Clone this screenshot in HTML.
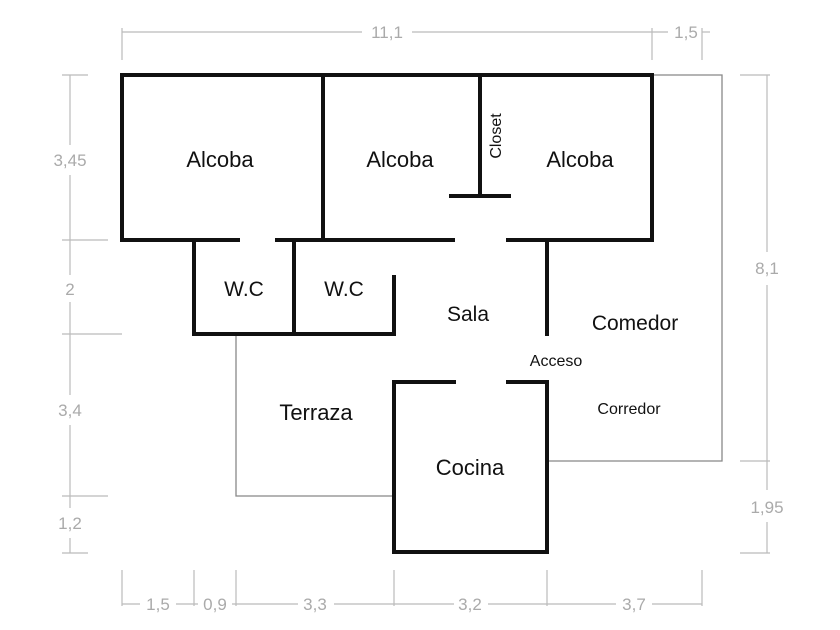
<!DOCTYPE html>
<html><head><meta charset="utf-8"><style>
html,body{margin:0;padding:0;background:#fff}
svg{display:block}
text{font-family:"Liberation Sans",sans-serif}
</style></head><body>
<svg width="840" height="630" viewBox="0 0 840 630" xmlns="http://www.w3.org/2000/svg">
<rect width="840" height="630" fill="#fff"/>
<!-- dimension lines -->
<g stroke="#bbb" stroke-width="1.2" fill="none">
<line x1="122" y1="32" x2="362" y2="32"/><line x1="412" y1="32" x2="668" y2="32"/>
<line x1="702" y1="32" x2="710" y2="32"/>
<line x1="122" y1="28" x2="122" y2="60"/><line x1="652" y1="28" x2="652" y2="60"/><line x1="702" y1="28" x2="702" y2="60"/>
<line x1="70" y1="75" x2="70" y2="145"/><line x1="70" y1="175" x2="70" y2="275"/><line x1="70" y1="302" x2="70" y2="395"/><line x1="70" y1="425" x2="70" y2="508"/><line x1="70" y1="538" x2="70" y2="553"/>
<line x1="62" y1="75" x2="88" y2="75"/><line x1="62" y1="240" x2="108" y2="240"/><line x1="62" y1="334" x2="122" y2="334"/><line x1="62" y1="496" x2="108" y2="496"/><line x1="62" y1="553" x2="88" y2="553"/>
<line x1="767" y1="75" x2="767" y2="252"/><line x1="767" y1="285" x2="767" y2="490"/><line x1="767" y1="522" x2="767" y2="553"/>
<line x1="740" y1="75" x2="770" y2="75"/><line x1="740" y1="461" x2="770" y2="461"/><line x1="740" y1="553" x2="770" y2="553"/>
<line x1="122" y1="604" x2="140" y2="604"/><line x1="176" y1="604" x2="198" y2="604"/><line x1="232" y1="604" x2="298" y2="604"/><line x1="334" y1="604" x2="454" y2="604"/><line x1="488" y1="604" x2="616" y2="604"/><line x1="652" y1="604" x2="702" y2="604"/>
<line x1="122" y1="570" x2="122" y2="606"/><line x1="194" y1="570" x2="194" y2="606"/><line x1="236" y1="570" x2="236" y2="606"/><line x1="394" y1="570" x2="394" y2="606"/><line x1="547" y1="570" x2="547" y2="606"/><line x1="702" y1="570" x2="702" y2="606"/>
</g>
<g fill="#aaa" font-size="17" text-anchor="middle">
<text x="387" y="38">11,1</text><text x="686" y="38">1,5</text>
<text x="70" y="166">3,45</text><text x="70" y="295">2</text><text x="70" y="416">3,4</text><text x="70" y="529">1,2</text>
<text x="767" y="274">8,1</text><text x="767" y="513">1,95</text>
<text x="158" y="610">1,5</text><text x="215" y="610">0,9</text><text x="315" y="610">3,3</text><text x="470" y="610">3,2</text><text x="634" y="610">3,7</text>
</g>
<!-- thin lines -->
<g stroke="#888" stroke-width="1.3" fill="none">
<polyline points="652,75 722,75 722,461 547,461"/>
<polyline points="236,334 236,496 394,496"/>
</g>
<!-- walls -->
<g stroke="#111" stroke-width="4" fill="none" stroke-linecap="square">
<polyline points="122,240 122,75 652,75 652,240 508,240"/>
<line x1="122" y1="240" x2="238" y2="240"/>
<line x1="277" y1="240" x2="453" y2="240"/>
<line x1="323" y1="75" x2="323" y2="240"/>
<line x1="480" y1="75" x2="480" y2="196"/>
<line x1="451" y1="196" x2="509" y2="196"/>
<polyline points="194,240 194,334 394,334 394,277"/>
<line x1="294" y1="240" x2="294" y2="334"/>
<line x1="547" y1="240" x2="547" y2="334"/>
<polyline points="454,382 394,382 394,552 547,552 547,382 508,382"/>
</g>
<g fill="#111" text-anchor="middle">
<text x="220" y="167" font-size="22">Alcoba</text>
<text x="400" y="167" font-size="22">Alcoba</text>
<text x="580" y="167" font-size="22">Alcoba</text>
<text x="244" y="296" font-size="21">W.C</text>
<text x="344" y="296" font-size="21">W.C</text>
<text x="468" y="321" font-size="21">Sala</text>
<text x="635" y="330" font-size="21">Comedor</text>
<text x="556" y="366" font-size="16">Acceso</text>
<text x="629" y="414" font-size="16">Corredor</text>
<text x="316" y="420" font-size="22">Terraza</text>
<text x="470" y="475" font-size="22">Cocina</text>
<text transform="translate(501,136) rotate(-90)" font-size="16">Closet</text>
</g>
</svg>
</body></html>
